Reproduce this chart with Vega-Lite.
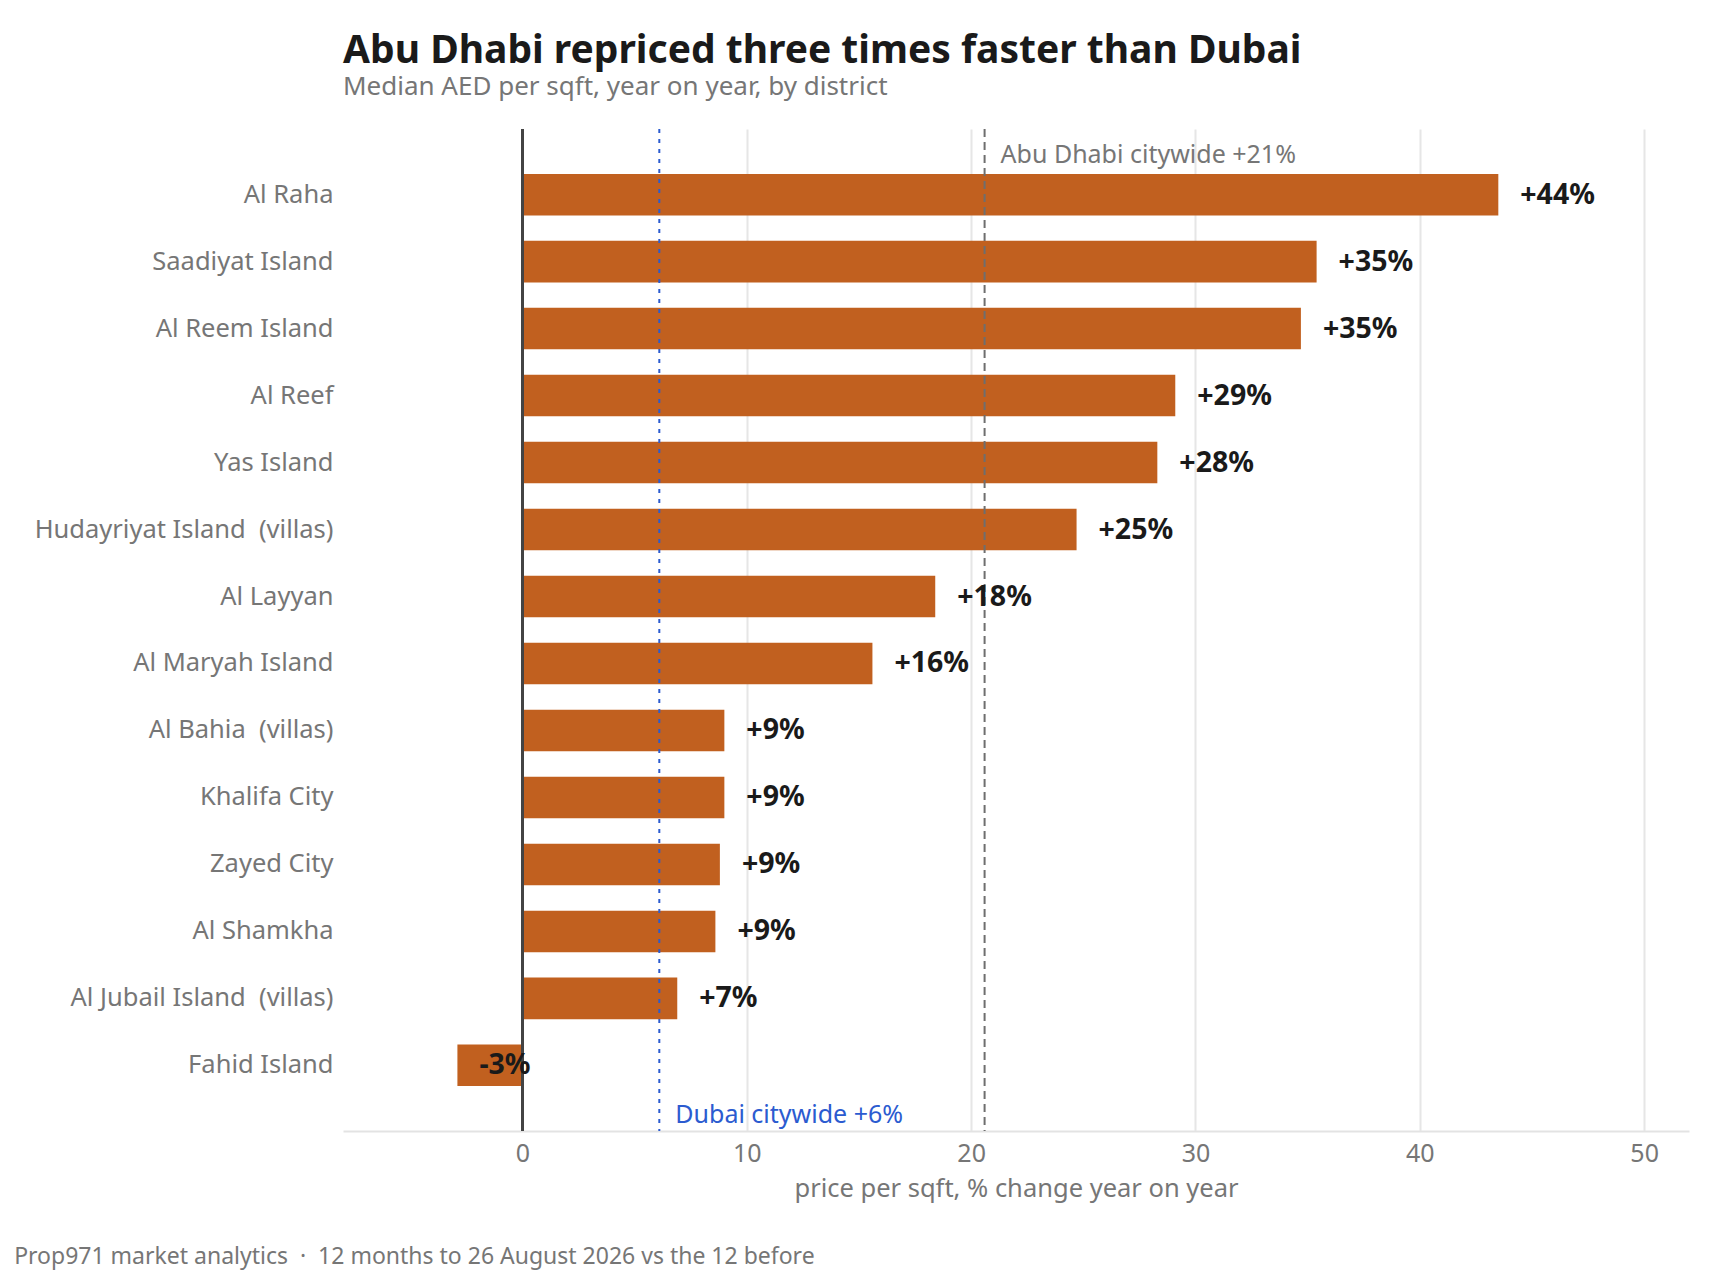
{
  "$schema": "https://vega.github.io/schema/vega-lite/v6.json",
  "background": "white",
  "padding": {"left": 14, "top": 31, "right": 20, "bottom": 10},
  "config": {
    "font": "Noto Sans",
    "view": {"stroke": null},
    "concat": {"spacing": 0}
  },
  "title": {
    "text": "Prop971 market analytics \u00a0·\u00a0 12 months to 26 August 2026 vs the 12 before",
    "orient": "bottom",
    "anchor": "start",
    "frame": "bounds",
    "fontSize": 23,
    "fontWeight": "normal",
    "color": "#767676",
    "dx": -20,
    "offset": 44
  },
  "datasets": {
    "districts": [
      {"district": "Al Raha", "change": 43.5, "label": "+44%"},
      {"district": "Saadiyat Island", "change": 35.4, "label": "+35%"},
      {"district": "Al Reem Island", "change": 34.7, "label": "+35%"},
      {"district": "Al Reef", "change": 29.1, "label": "+29%"},
      {"district": "Yas Island", "change": 28.3, "label": "+28%"},
      {"district": "Hudayriyat Island\u00a0 (villas)", "change": 24.7, "label": "+25%"},
      {"district": "Al Layyan", "change": 18.4, "label": "+18%"},
      {"district": "Al Maryah Island", "change": 15.6, "label": "+16%"},
      {"district": "Al Bahia\u00a0 (villas)", "change": 9.0, "label": "+9%"},
      {"district": "Khalifa City", "change": 9.0, "label": "+9%"},
      {"district": "Zayed City", "change": 8.8, "label": "+9%"},
      {"district": "Al Shamkha", "change": 8.6, "label": "+9%"},
      {"district": "Al Jubail Island\u00a0 (villas)", "change": 6.9, "label": "+7%"},
      {"district": "Fahid Island", "change": -2.9, "label": "-3%"}
    ],
    "citywide": [
      {"city": "Abu Dhabi", "change": 20.6, "label": "Abu Dhabi citywide +21%", "anchor": "Al Raha"},
      {"city": "Dubai", "change": 6.1, "label": "Dubai citywide +6%", "anchor": "Fahid Island"}
    ]
  },
  "vconcat": [
    {
      "title": {
        "text": "Abu Dhabi repriced three times faster than Dubai",
        "subtitle": "Median AED per sqft, year on year, by district",
        "anchor": "start",
        "frame": "group",
        "fontSize": 39,
        "fontWeight": "bold",
        "color": "#1a1a1a",
        "subtitleFontSize": 26,
        "subtitleColor": "#767676",
        "subtitlePadding": 3,
        "offset": 28
      },
      "width": 1346,
      "height": 1002,
      "layer": [
        {
          "data": {"name": "districts"},
          "mark": {"type": "bar", "color": "#c1601f"},
          "encoding": {
            "y": {
              "field": "district",
              "type": "nominal",
              "sort": null,
              "scale": {"paddingInner": 0.38, "paddingOuter": 0.67},
              "axis": {
                "title": null,
                "domain": false,
                "ticks": false,
                "labelFontSize": 25.5,
                "labelColor": "#767676",
                "labelPadding": 10,
                "labelLimit": 400
              }
            },
            "x": {
              "field": "change",
              "type": "quantitative",
              "scale": {"domain": [-8, 52], "nice": false, "zero": false},
              "axis": {
                "values": [0, 10, 20, 30, 40, 50],
                "grid": true,
                "gridColor": "#e6e6e6",
                "gridWidth": 2,
                "domain": true,
                "domainColor": "#e3e3e3",
                "domainWidth": 2,
                "ticks": false,
                "labelFontSize": 25,
                "labelColor": "#767676",
                "labelPadding": 10,
                "title": "price per sqft, % change year on year",
                "titleFontSize": 25.5,
                "titleFontWeight": "normal",
                "titleColor": "#767676",
                "titlePadding": 10
              }
            }
          }
        },
        {
          "data": {"name": "districts"},
          "mark": {"type": "rule", "color": "#444444", "strokeWidth": 2.5},
          "encoding": {"x": {"datum": 0}}
        },
        {
          "data": {"name": "citywide"},
          "transform": [{"filter": "datum.city === 'Dubai'"}],
          "mark": {"type": "rule", "color": "#2b5bd0", "strokeWidth": 2, "strokeDash": [4, 6]},
          "encoding": {"x": {"field": "change", "type": "quantitative"}}
        },
        {
          "data": {"name": "citywide"},
          "transform": [{"filter": "datum.city === 'Abu Dhabi'"}],
          "mark": {"type": "rule", "color": "#6e6e6e", "strokeWidth": 2, "strokeDash": [8, 5]},
          "encoding": {"x": {"field": "change", "type": "quantitative"}}
        },
        {
          "data": {"name": "districts"},
          "mark": {"type": "text", "align": "left", "baseline": "middle", "dx": 22, "fontSize": 28.5, "fontWeight": "bold", "color": "#1a1a1a"},
          "encoding": {
            "y": {"field": "district", "type": "nominal", "sort": null},
            "x": {"field": "change", "type": "quantitative"},
            "text": {"field": "label"}
          }
        },
        {
          "data": {"name": "citywide"},
          "transform": [{"filter": "datum.city === 'Abu Dhabi'"}],
          "mark": {"type": "text", "align": "left", "baseline": "middle", "dx": 16, "dy": -40, "fontSize": 25, "color": "#767676"},
          "encoding": {
            "y": {"field": "anchor", "type": "nominal", "sort": null},
            "x": {"field": "change", "type": "quantitative"},
            "text": {"field": "label"}
          }
        },
        {
          "data": {"name": "citywide"},
          "transform": [{"filter": "datum.city === 'Dubai'"}],
          "mark": {"type": "text", "align": "left", "baseline": "middle", "dx": 16, "dy": 50, "fontSize": 25, "color": "#2b5bd0"},
          "encoding": {
            "y": {"field": "anchor", "type": "nominal", "sort": null},
            "x": {"field": "change", "type": "quantitative"},
            "text": {"field": "label"}
          }
        }
      ]
    }
  ]
}
